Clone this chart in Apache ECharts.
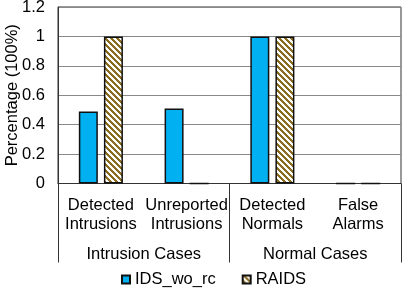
<!DOCTYPE html>
<html><head><meta charset="utf-8">
<script src="https://cdn.jsdelivr.net/npm/echarts@6/dist/echarts.min.js"></script>
<style>html,body{margin:0;padding:0;background:#fff}#c{width:403px;height:288px}</style>
</head><body><div id="c"></div>
<script>
var categories = ['Detected\nIntrusions', 'Unreported\nIntrusions', 'Detected\nNormals', 'False\nAlarms'];
var groups = ['Intrusion Cases', 'Normal Cases'];
var idsWoRc = [0.49, 0.51, 1, 0];
var raids = [1, 0, 1, 0];
var seriesNames = ['IDS_wo_rc', 'RAIDS'];

function hatch() {
  var s = 6, c = document.createElement('canvas');
  c.width = s; c.height = s;
  var ctx = c.getContext('2d');
  ctx.fillStyle = '#fff'; ctx.fillRect(0, 0, s, s);
  ctx.fillStyle = '#8a6d1e';
  for (var x = 0; x < s; x++) for (var y = 0; y < s; y++) {
    var d = ((x - y) % s + s) % s;
    if (d < 3) ctx.fillRect(x, y, 1, 1);
  }
  return { image: c, repeat: 'repeat' };
}
var pat = hatch();
var font = 'Liberation Sans';
var fs = 16.5;
var chart = echarts.init(document.getElementById('c'));
chart.setOption({
  animation: false,
  textStyle: { fontFamily: font },
  grid: { left: 58, right: 2, top: 7, bottom: 104.5, show: true, borderColor: '#333', borderWidth: 1, containLabel: false, outerBoundsMode: 'none' },
  legend: {
    bottom: 0, left: 121, itemWidth: 8, itemHeight: 8, itemGap: 26, padding: 0,
    textStyle: { fontSize: fs, color: '#000', fontFamily: font },
    data: [{ name: seriesNames[0], icon: 'rect' }, { name: seriesNames[1], icon: 'rect' }]
  },
  xAxis: [{
    type: 'category', data: categories, position: 'bottom',
    axisLine: { lineStyle: { color: '#333', width: 1 } },
    axisTick: { show: false },
    axisLabel: { color: '#000', fontSize: fs, lineHeight: 18.5, margin: 13, interval: 0, fontFamily: font }
  }, {
    type: 'category', data: groups, position: 'bottom',
    axisLine: { show: false },
    axisTick: { show: true, length: 79, lineStyle: { color: '#333', width: 1 } },
    axisLabel: { color: '#000', fontSize: fs, margin: 62, interval: 0, fontFamily: font }
  }],
  yAxis: {
    type: 'value', min: 0, max: 1.2, interval: 0.2,
    name: 'Percentage (100%)', nameLocation: 'middle', nameGap: 37, nameMoveOverlap: false,
    nameTextStyle: { fontSize: fs, color: '#000', fontFamily: font },
    axisLine: { show: true, lineStyle: { color: '#333' } },
    axisTick: { show: false },
    axisLabel: { color: '#000', fontSize: fs, margin: 13, fontFamily: font },
    splitLine: { lineStyle: { color: '#888', width: 1 } }
  },
  series: [{
    name: seriesNames[0], type: 'bar', data: idsWoRc, barWidth: 19, barGap: '32%',
    itemStyle: { color: '#00b0f0', borderColor: '#111', borderWidth: 1.5 }
  }, {
    name: seriesNames[1], type: 'bar', data: raids, barWidth: 19,
    itemStyle: { color: pat, borderColor: '#111', borderWidth: 1.5 }
  }]
});
</script></body></html>
